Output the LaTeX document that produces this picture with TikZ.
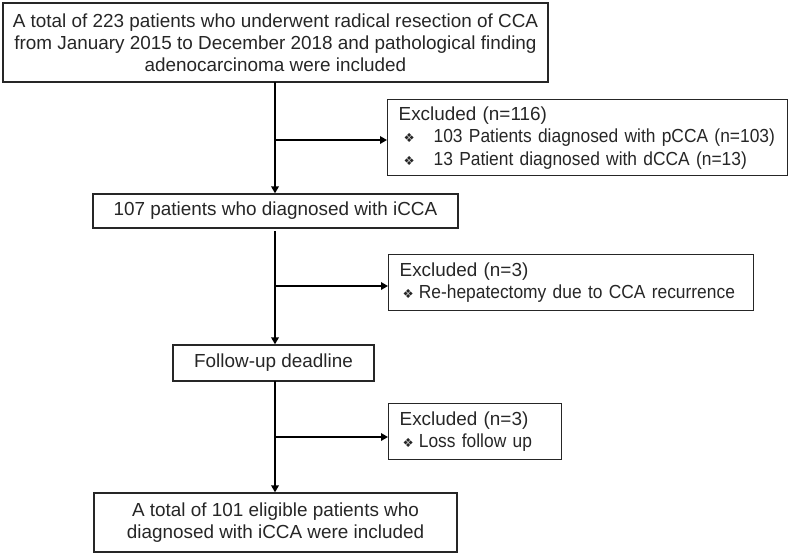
\documentclass[tikz,border=0pt]{standalone}
\usepackage{fontspec}
\setmainfont{Liberation Sans}
\newfontfamily\symfont{DejaVu Sans}
\newfontfamily\narrowfont[FakeStretch=0.92]{Liberation Sans}
\usetikzlibrary{arrows.meta,calc}
\newcommand{\bul}{{\symfont\fontsize{12.5}{12.5}\selectfont ❖}}
\newcommand{\sm}{\narrowfont\fontsize{18.9}{22.5}\selectfont}
\tikzset{
  box/.style={draw=black!85, line width=1.3pt, inner sep=0pt, align=center,
    font=\fontsize{18.9}{22}\selectfont, text=black!85},
  exbox/.style={draw=black!85, line width=1.3pt, inner xsep=11pt, inner ysep=0pt, align=left,
    font=\fontsize{18.9}{22.5}\selectfont, text=black!85, anchor=north west},
  arr/.style={line width=2pt, draw=black, -{Triangle[length=7pt,width=7.5pt]}},
}
\begin{document}
\begin{tikzpicture}[x=1pt,y=-1pt]
\useasboundingbox (0,0) rectangle (789,554);
% main boxes
\node[box, minimum width=545pt, minimum height=79pt] (b1) at (275.5,42.5)
  {A total of 223 patients who underwent radical resection of CCA\\
   from January 2015 to December 2018 and pathological finding\\
   adenocarcinoma were included};
\node[box, minimum width=365pt, minimum height=34pt] (b2) at (275.5,211)
  {107 patients who diagnosed with iCCA};
\node[box, minimum width=201pt, minimum height=36pt] (b3) at (273.5,363)
  {Follow-up deadline};
\node[box, minimum width=363pt, minimum height=59pt] (b4) at (275.5,522.5)
  {A total of 101 eligible patients who\\diagnosed with iCCA were included};
% exclusion boxes
\node[exbox, text width=378pt, minimum height=76pt] (e1) at (387,99)
  {Excluded (n=116)\\
   {\sm\hspace*{5pt}\makebox[30pt][l]{\bul}103 Patients diagnosed with pCCA (n=103)}\\
   {\sm\hspace*{5pt}\makebox[30pt][l]{\bul}13 Patient diagnosed with dCCA (n=13)}};
\node[exbox, text width=343pt, minimum height=56pt] (e2) at (388,254)
  {Excluded (n=3)\\
   {\sm\hspace*{3pt}\bul\hspace{5pt}Re-hepatectomy due to CCA recurrence}};
\node[exbox, text width=151pt, minimum height=56pt] (e3) at (388,403)
  {Excluded (n=3)\\
   {\sm\hspace*{3pt}\bul\hspace{5pt}Loss follow up}};
% branch points
\coordinate (s1) at (275,82);
\coordinate (j1) at (275,140);
\coordinate (s2) at (275,231);
\coordinate (j2) at (275,286);
\coordinate (s3) at (275,381);
\coordinate (j3) at (275,437);
% connectors
\draw[arr] (s1) -- (s1 |- b2.north);
\draw[arr] (j1) -- (j1 -| e1.west);
\draw[arr] (s2) -- (s2 |- b3.north);
\draw[arr] (j2) -- (j2 -| e2.west);
\draw[arr] (s3) -- (s3 |- b4.north);
\draw[arr] (j3) -- (j3 -| e3.west);
\end{tikzpicture}
\end{document}
